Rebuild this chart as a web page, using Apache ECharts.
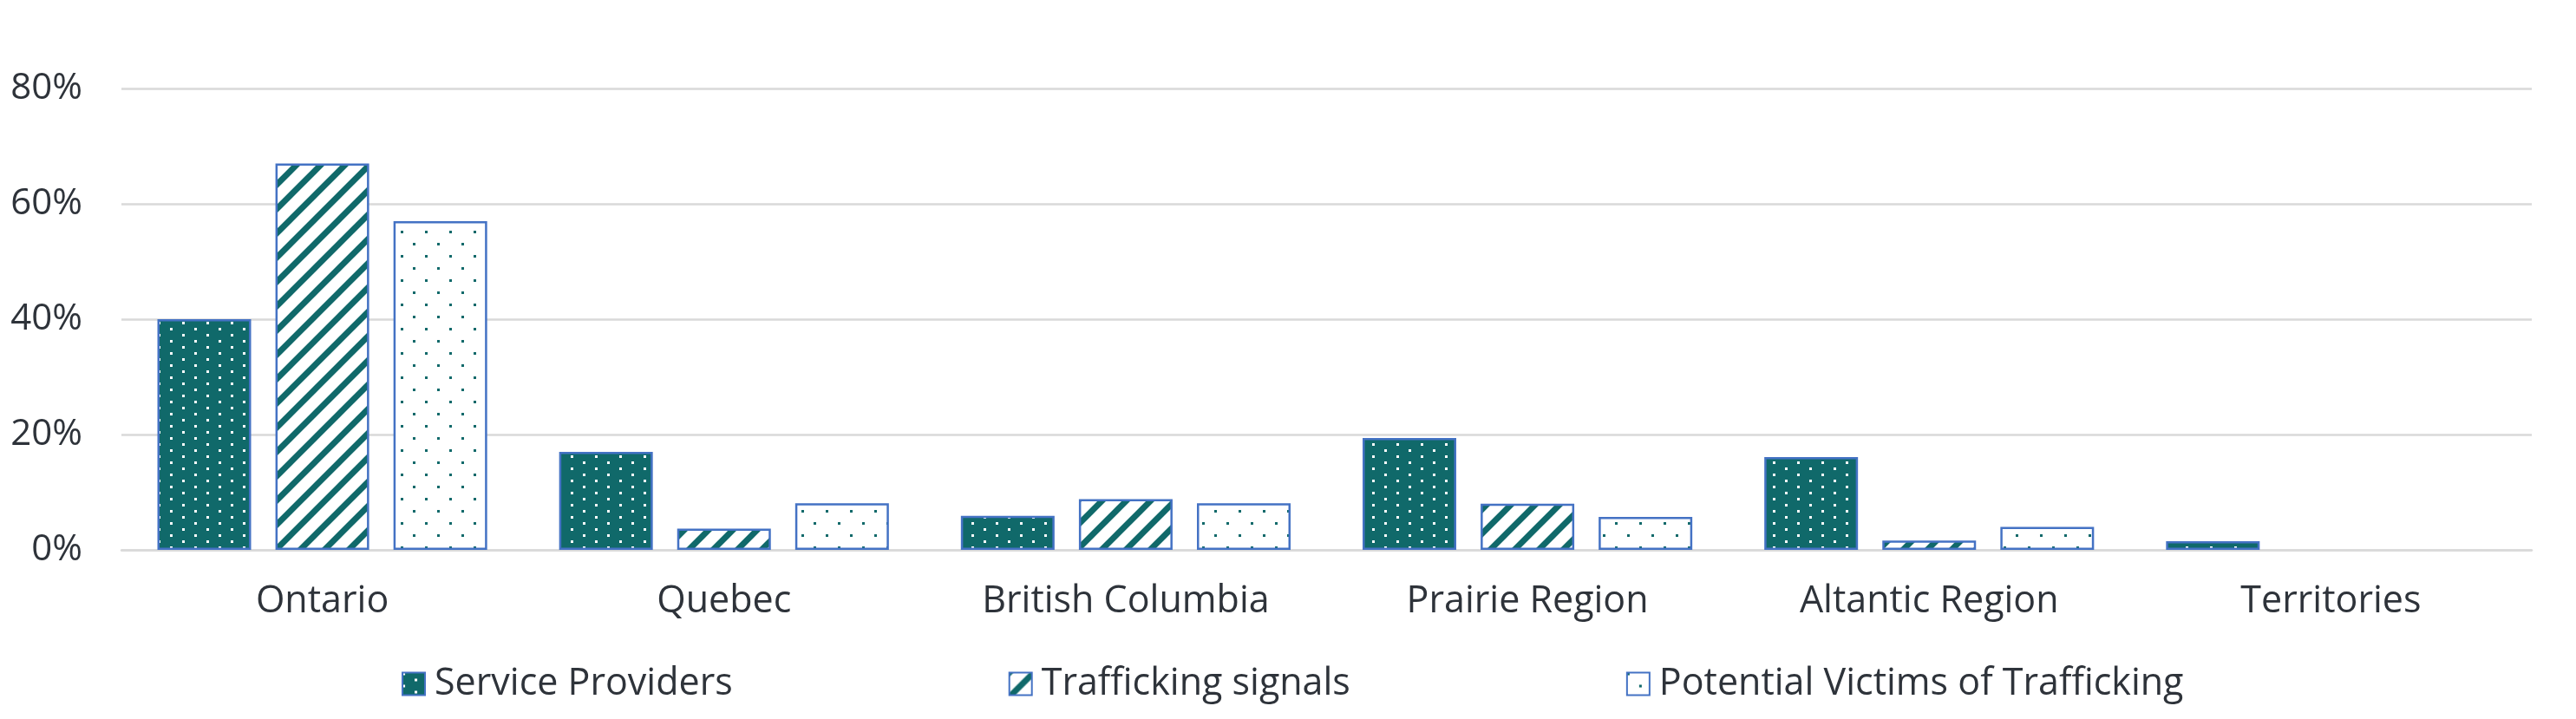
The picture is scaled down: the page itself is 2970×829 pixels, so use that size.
<!DOCTYPE html>
<html>
<head>
<meta charset="utf-8">
<script src="https://cdn.jsdelivr.net/npm/echarts@6/dist/echarts.min.js"></script>
<style>
  html, body { margin: 0; padding: 0; background: #fff; }
  #chart { width: 2970px; height: 829px; }
</style>
</head>
<body>
<div id="chart"></div>
<script>
const regions = ['Ontario', 'Quebec', 'British Columbia', 'Prairie Region', 'Altantic Region', 'Territories']
const seriesNames = ['Service Providers', 'Trafficking signals', 'Potential Victims of Trafficking']
const serviceProviders = [40, 17, 5.9, 19.4, 16.1, 1.5]
const traffickingSignals = [67, 3.7, 8.8, 8.0, 1.6, null]
const potentialVictims = [57, 8.1, 8.1, 5.7, 4.0, null]
const yTicks = [0, 20, 40, 60, 80]

const teal = '#10696a'
const blue = '#4472c4'
const textColor = '#2e333a'

// fill patterns, like the excel ones
function makeTile(w, h, draw) {
  const c = document.createElement('canvas')
  c.width = w
  c.height = h
  draw(c.getContext('2d'))
  return { image: c, repeat: 'repeat' }
}

const dotsOnTeal = makeTile(28, 14, ctx => {
  ctx.fillStyle = teal
  ctx.fillRect(0, 0, 28, 14)
  ctx.fillStyle = '#fff'
  ctx.fillRect(0, 0, 3, 3)
  ctx.fillRect(14, 7, 3, 3)
})

const stripes = makeTile(28, 28, ctx => {
  ctx.fillStyle = '#fff'
  ctx.fillRect(0, 0, 28, 28)
  ctx.strokeStyle = teal
  ctx.lineWidth = 7
  ctx.beginPath()
  ctx.moveTo(-4, 32); ctx.lineTo(32, -4)
  ctx.moveTo(-18, 18); ctx.lineTo(18, -18)
  ctx.moveTo(10, 46); ctx.lineTo(46, 10)
  ctx.stroke()
})

const sparseDots = makeTile(28, 28, ctx => {
  ctx.fillStyle = '#fff'
  ctx.fillRect(0, 0, 28, 28)
  ctx.fillStyle = teal
  ctx.fillRect(0, 0, 3, 3)
  ctx.fillRect(14, 14, 3, 3)
})

const myChart = echarts.init(document.getElementById('chart'))

const barBase = {
  type: 'bar',
  barWidth: 108,
  barGap: '26%',
  itemStyle: { borderColor: blue, borderWidth: 2.5 }
}

const option = {
  animation: false,
  textStyle: { fontFamily: 'Open Sans', color: textColor },
  grid: { left: 140, right: 51, top: 102, bottom: 195 },
  legend: {
    left: 458,
    top: 762,
    itemWidth: 26,
    itemHeight: 26,
    itemGap: 318,
    icon: 'rect',
    data: seriesNames,
    textStyle: { fontSize: 43, color: textColor, padding: [0, 0, 0, 6] }
  },
  xAxis: {
    type: 'category',
    data: regions,
    axisTick: { show: false },
    axisLine: { lineStyle: { color: '#d9d9d9', width: 2.5 } },
    axisLabel: { fontSize: 43, color: textColor, margin: 38 }
  },
  yAxis: {
    type: 'value',
    min: yTicks[0],
    max: yTicks[yTicks.length - 1],
    interval: 20,
    axisLabel: { fontSize: 42, color: textColor, margin: 45, formatter: '{value}%' },
    splitLine: { lineStyle: { color: '#d9d9d9', width: 2.5 } }
  },
  series: [
    { ...barBase, name: seriesNames[0], data: serviceProviders, itemStyle: { ...barBase.itemStyle, color: dotsOnTeal } },
    { ...barBase, name: seriesNames[1], data: traffickingSignals, itemStyle: { ...barBase.itemStyle, color: stripes } },
    { ...barBase, name: seriesNames[2], data: potentialVictims, itemStyle: { ...barBase.itemStyle, color: sparseDots } }
  ]
}

myChart.setOption(option)
</script>
</body>
</html>
